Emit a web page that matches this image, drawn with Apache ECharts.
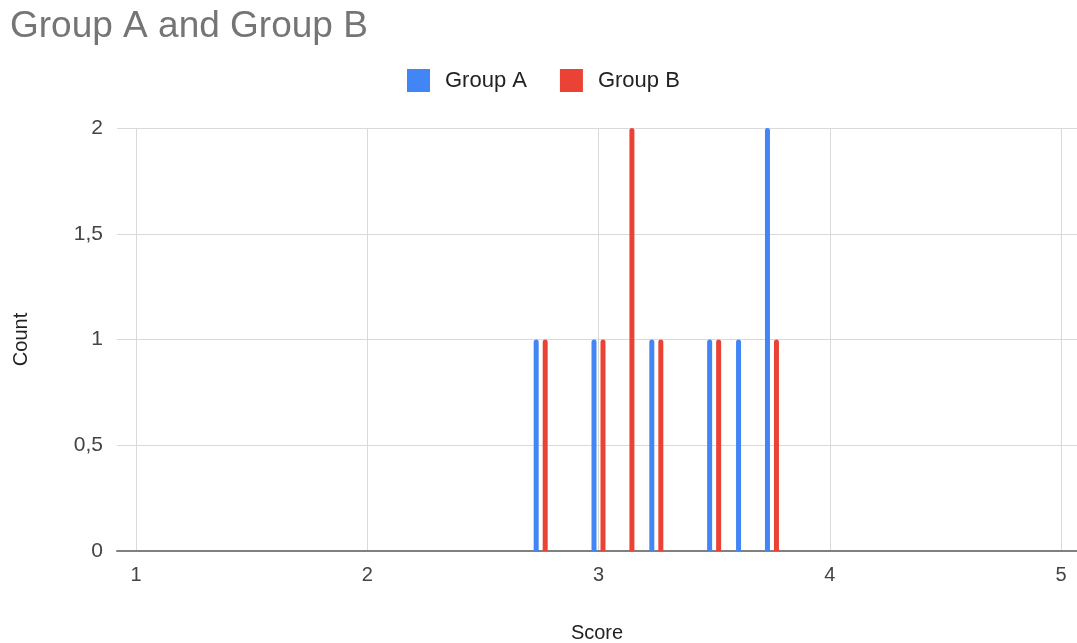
<!DOCTYPE html>
<html>
<head>
<meta charset="utf-8">
<script src="https://cdn.jsdelivr.net/npm/echarts@6/dist/echarts.min.js"></script>
<style>html,body{margin:0;padding:0;background:#fff}#c{width:1077px;height:643px}</style>
</head>
<body>
<div id="c"></div>
<script>
// Data
const scores = [2.75, 3, 3.125, 3.25, 3.5, 3.625, 3.75];
const groupA = [1, 1, 0, 1, 1, 1, 2];
const groupB = [1, 1, 2, 1, 1, 0, 1];
const xTicks = [1, 2, 3, 4, 5];
const seriesNames = ['Group A', 'Group B'];
const colors = ['#4285F4', '#EA4335'];

const FONT = '"Liberation Sans", Arial, sans-serif';
const chart = echarts.init(document.getElementById('c'));
const pairs = arr => scores.map((s, i) => [s, arr[i]]);

chart.setOption({
  animation: false,
  color: colors,
  title: {
    text: 'Group A and Group B',
    left: 10, top: 8, padding: 0,
    textStyle: { fontFamily: FONT, fontSize: 37, fontWeight: 'normal', color: '#757575' }
  },
  legend: {
    left: 407, top: 69, padding: 0,
    icon: 'rect', itemWidth: 23, itemHeight: 23, itemGap: 33,
    data: seriesNames,
    textStyle: { fontFamily: FONT, fontSize: 22, color: '#222', padding: [0, 0, 0, 10] }
  },
  grid: { left: 117, right: 0, top: 128, bottom: 92, containLabel: false, outerBoundsMode: 'none' },
  xAxis: {
    type: 'value', min: 0.918, max: 5.069,
    name: 'Score', nameLocation: 'middle', nameGap: 72,
    nameTextStyle: { fontFamily: FONT, fontSize: 20, color: '#222' },
    axisLine: { show: true, onZero: false, lineStyle: { color: '#808080', width: 2 } },
    axisTick: { show: false, customValues: xTicks },
    axisLabel: { customValues: xTicks, fontFamily: FONT, fontSize: 20, color: '#444', margin: 14 },
    splitLine: { show: true, lineStyle: { color: '#d9d9d9', width: 1 } }
  },
  yAxis: {
    type: 'value', min: 0, max: 2, interval: 0.5,
    name: 'Count', nameLocation: 'middle', nameGap: 86,
    nameTextStyle: { fontFamily: FONT, fontSize: 20, color: '#222' },
    axisLine: { show: false }, axisTick: { show: false },
    axisLabel: { fontFamily: FONT, fontSize: 21, color: '#444', margin: 14,
      formatter: v => String(v).replace('.', ',') },
    splitLine: { lineStyle: { color: '#d9d9d9', width: 1 } }
  },
  series: [
    { name: seriesNames[0], type: 'bar', data: pairs(groupA), barWidth: 5, barGap: '80%',
      itemStyle: { borderRadius: [2.5, 2.5, 0, 0] } },
    { name: seriesNames[1], type: 'bar', data: pairs(groupB), barWidth: 5, barGap: '80%',
      itemStyle: { borderRadius: [2.5, 2.5, 0, 0] } }
  ]
});
</script>
</body>
</html>
